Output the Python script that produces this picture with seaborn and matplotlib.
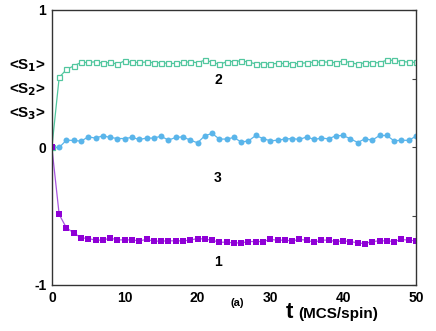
import numpy as np
import pandas as pd
import matplotlib
matplotlib.use("Agg")
import matplotlib.pyplot as plt
import seaborn as sns

# time steps (MCS/spin)
t = list(range(51))

# <S1> (purple, filled squares)
s1 = [0.0, -0.487, -0.585, -0.621, -0.657, -0.662, -0.674, -0.674, -0.659, -0.672,
      -0.672, -0.672, -0.679, -0.669, -0.681, -0.681, -0.679, -0.679, -0.679, -0.674,
      -0.662, -0.667, -0.674, -0.689, -0.689, -0.694, -0.694, -0.684, -0.684, -0.684,
      -0.669, -0.674, -0.674, -0.679, -0.669, -0.674, -0.689, -0.674, -0.674, -0.684,
      -0.679, -0.684, -0.694, -0.699, -0.684, -0.679, -0.679, -0.684, -0.669, -0.674,
      -0.679]

# <S2> (green, open squares)
s2 = [0.0, 0.509, 0.567, 0.593, 0.618, 0.618, 0.623, 0.613, 0.618, 0.606,
      0.630, 0.618, 0.618, 0.621, 0.616, 0.616, 0.611, 0.611, 0.618, 0.623,
      0.616, 0.635, 0.621, 0.604, 0.623, 0.625, 0.630, 0.621, 0.608, 0.606,
      0.608, 0.611, 0.611, 0.608, 0.611, 0.616, 0.621, 0.621, 0.621, 0.616,
      0.630, 0.616, 0.606, 0.616, 0.616, 0.616, 0.635, 0.633, 0.625, 0.621,
      0.618]

# <S3> (blue, filled circles)
s3 = [0.0, 0.0, 0.053, 0.051, 0.046, 0.077, 0.068, 0.085, 0.073, 0.065,
      0.065, 0.073, 0.058, 0.068, 0.068, 0.082, 0.053, 0.073, 0.077, 0.053,
      0.034, 0.085, 0.102, 0.061, 0.061, 0.073, 0.039, 0.048, 0.087, 0.065,
      0.048, 0.053, 0.061, 0.065, 0.058, 0.077, 0.058, 0.068, 0.063, 0.085,
      0.087, 0.063, 0.036, 0.063, 0.053, 0.087, 0.087, 0.048, 0.053, 0.051,
      0.082]

sns.set_style("white")
plt.rcParams['font.family'] = ['Liberation Sans', 'DejaVu Sans']
plt.rcParams['text.color'] = 'black'

df = pd.DataFrame({"t": t, "s1": s1, "s2": s2, "s3": s3})

fig = plt.figure(figsize=(4.36, 3.31), dpi=100)
ax = fig.add_axes([0.119, 0.139, 0.835, 0.831])

sns.lineplot(data=df, x="t", y="s2", ax=ax, color="#52c79f", lw=0.9,
             marker="s", markersize=3.6, markerfacecolor="white",
             markeredgecolor="#52c79f", markeredgewidth=0.9)
sns.lineplot(data=df, x="t", y="s3", ax=ax, color="#5ab5ea", lw=0.9,
             marker="o", markersize=4.3, markeredgewidth=0)
sns.lineplot(data=df, x="t", y="s1", ax=ax, color="#a855e0", lw=0.9,
             marker="s", markersize=4.3, markerfacecolor="#8f00d6",
             markeredgewidth=0)

ax.set_xlim(0, 50)
ax.set_ylim(-1, 1)
ax.set_xticks([0, 10, 20, 30, 40, 50])
ax.set_yticks([-1, -0.5, 0, 0.5, 1])
ax.set_yticklabels(["-1", "", "0", "", "1"])
ax.set_xlabel("")
ax.set_ylabel("")
ax.tick_params(axis="both", direction="in", length=3, width=0.8, color="#444444",
               labelsize=10, labelcolor="black", pad=4, right=True)
for lab in ax.get_xticklabels() + ax.get_yticklabels():
    lab.set_fontweight("bold")
for sp in ax.spines.values():
    sp.set_color("#333333")
    sp.set_linewidth(1.0)

# curve labels
ax.text(22.8, 0.49, "2", fontsize=10, fontweight="bold", ha="center", va="center")
ax.text(22.8, -0.22, "3", fontsize=10, fontweight="bold", ha="center", va="center")
ax.text(22.8, -0.83, "1", fontsize=10, fontweight="bold", ha="center", va="center")

# y-axis labels <S1>, <S2>, <S3>
for i, yy in enumerate([0.803, 0.73, 0.657]):
    fig.text(0.062, yy, r"<S$_{\mathbf{%d}}$>" % (i + 1), fontsize=11,
             fontweight="bold", ha="center", va="center")

fig.text(0.545, 0.085, "(a)", fontsize=8, fontweight="bold", ha="center", va="center")
fig.text(0.655, 0.055, "t", fontsize=16, fontweight="bold", ha="left", va="center")
fig.text(0.685, 0.05, "(MCS/spin)", fontsize=11, fontweight="bold", ha="left", va="center")

fig.savefig("out.png", dpi=100)
